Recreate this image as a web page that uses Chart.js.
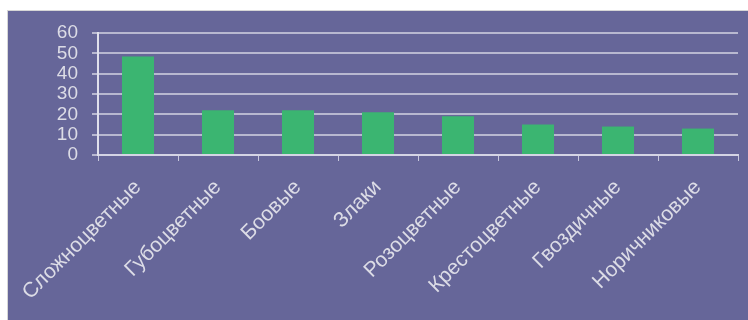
<!DOCTYPE html>
<html>
<head>
<meta charset="utf-8">
<script src="https://cdn.jsdelivr.net/npm/chart.js@4/dist/chart.umd.min.js"></script>
<style>
  html, body { margin: 0; padding: 0; background: #ffffff; width: 748px; height: 320px; overflow: hidden; }
  #panel { position: absolute; left: 7px; top: 10px; width: 740px; height: 310px; background: #666699; border-left: 1px solid #d6d6d6; border-top: 1px solid #d6d6d6; }
  #wrap { position: absolute; left: 0; top: 0; width: 740px; height: 310px; }
</style>
</head>
<body>
<div id="panel"><div id="wrap"><canvas id="c"></canvas></div></div>
<script>
const categories = ['Сложноцветные', 'Губоцветные', 'Боовые', 'Злаки', 'Розоцветные', 'Крестоцветные', 'Гвоздичные', 'Норичниковые'];
const values = [48.5, 22, 22, 21, 19, 15, 14, 13];
const yTicks = [0, 10, 20, 30, 40, 50, 60];

const textColor = '#dcdce6';
new Chart(document.getElementById('c'), {
  type: 'bar',
  data: {
    labels: categories,
    datasets: [{
      data: values,
      backgroundColor: '#3bb571',
      borderWidth: 0,
      categoryPercentage: 1.0,
      barPercentage: 0.4
    }]
  },
  options: {
    responsive: true,
    maintainAspectRatio: false,
    animation: false,
    devicePixelRatio: 1,
    layout: { padding: { left: 0, right: 10, top: 22, bottom: 0 } },
    plugins: { legend: { display: false }, tooltip: { enabled: false } },
    scales: {
      x: {
        grid: { display: true, drawOnChartArea: false, drawTicks: true, tickLength: 6, color: '#c8c8dc', lineWidth: 1 },
        border: { display: true, color: '#d4d4e4', width: 2 },
        ticks: { color: textColor, font: { family: 'Liberation Sans, Arial', size: 21 }, minRotation: 45, maxRotation: 45, padding: 14, autoSkip: false },
        afterFit: (s) => { s.paddingLeft = 0; s.paddingRight = 0; s.height = 166; }
      },
      y: {
        min: 0, max: 60,
        afterBuildTicks: (scale) => { scale.ticks = yTicks.map(v => ({ value: v })); },
        grid: { color: '#b8b8d0', lineWidth: 2, tickLength: 6 },
        border: { display: true, color: '#e0e0ec', width: 2 },
        ticks: { color: textColor, font: { family: 'Liberation Sans, Arial', size: 19 }, padding: 14, autoSkip: false },
        afterFit: (s) => { s.paddingTop = 0; s.paddingBottom = 0; s.width = 90; }
      }
    }
  }
});
</script>
</body>
</html>
